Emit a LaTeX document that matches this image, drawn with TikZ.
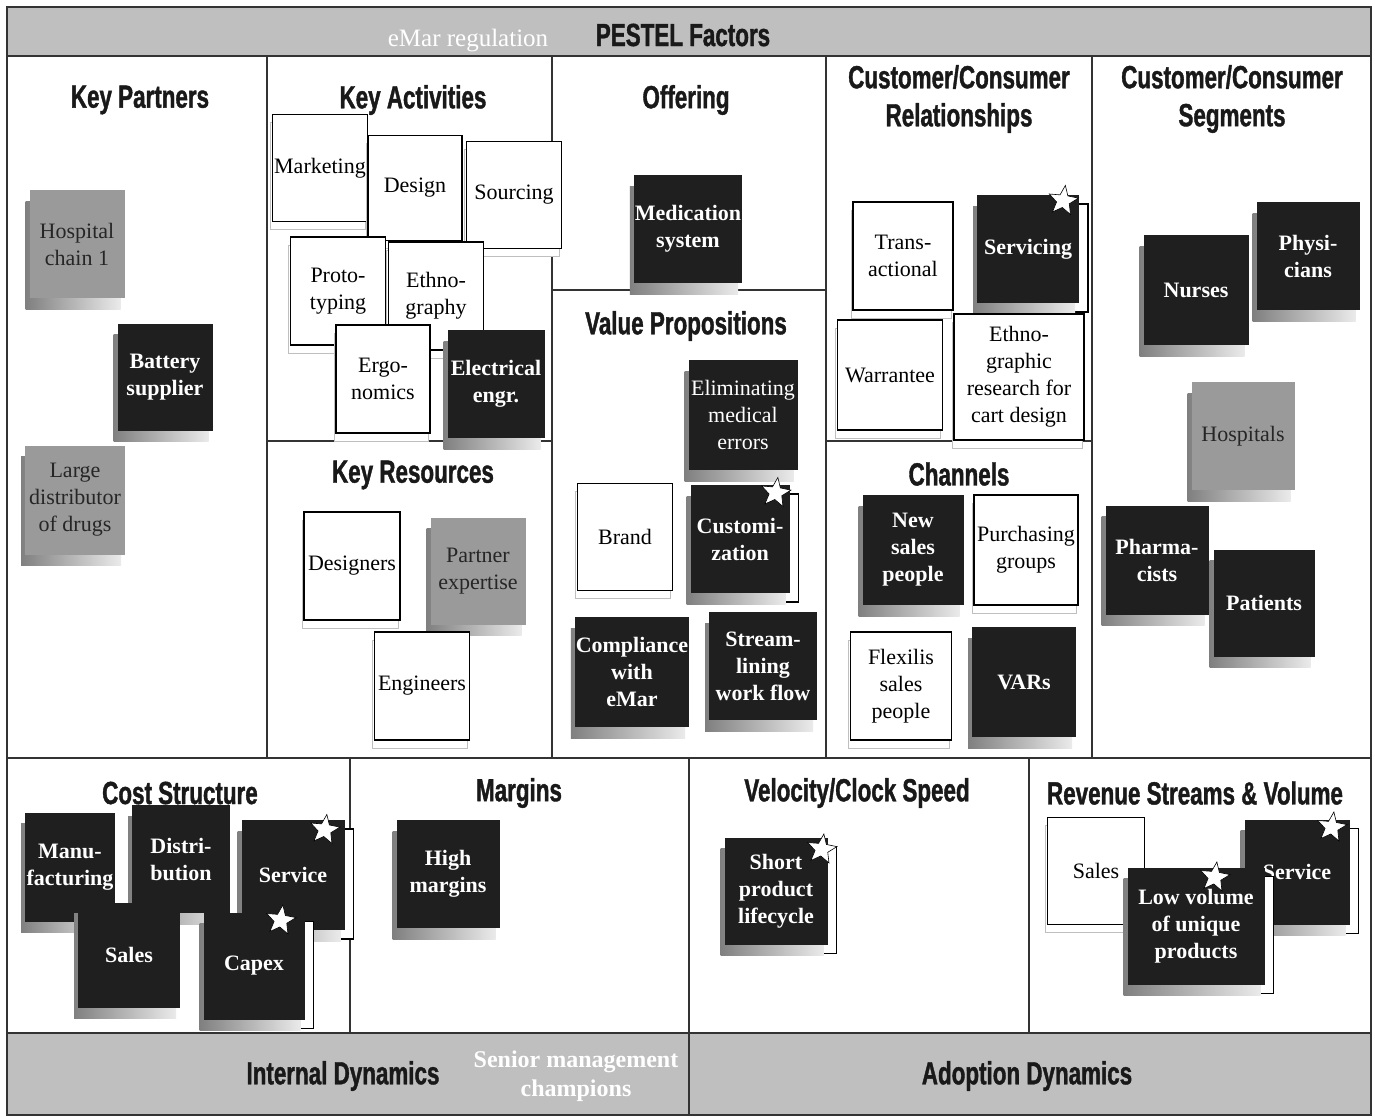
\documentclass[tikz,border=0pt]{standalone}
\usepackage{fontspec}
\setmainfont{Liberation Serif}
\newfontfamily\headfont[FakeStretch=0.7,FakeBold=1.2]{Liberation Sans}
\usepackage{tikz}
\usetikzlibrary{shadows,shapes.geometric}
\definecolor{ink}{HTML}{1F1F1F}
\definecolor{slate}{HTML}{9A9A9A}
\definecolor{band}{HTML}{BFBFBF}
\tikzset{
	wh/.style 2 args={minimum width=#1pt,minimum height=#2pt},
	note/.style={wh={96}{108},inner sep=1pt,align=center,font=\fontsize{22}{27}\selectfont},
	lift/.style={general shadow={shadow xshift=-4pt,shadow yshift=-11pt,left color=black!50,right color=black!8}},
	sheet/.style={copy shadow={shadow xshift=-2pt,shadow yshift=-8pt,fill=white,draw=black!25,line width=0.6pt}},
	curled/.style={copy shadow={shadow xshift=9pt,shadow yshift=-9pt,fill=white,draw=black,line width=1.3pt}},
	blacknote/.style={note,lift,fill=ink,text=white,font=\fontsize{22}{27}\selectfont\bfseries},
	darknote/.style={note,lift,fill=ink,text=white},
	graynote/.style={note,lift,fill=slate,text=black!85},
	whitenote/.style={note,sheet,fill=white,draw=black,line width=1.6pt},
	starmark/.style={star,star points=5,star point ratio=2.3,minimum size=31pt,inner sep=0pt,fill=white,draw=black,line width=0.6pt,rotate=-8},
	head/.style={font=\headfont\bfseries\fontsize{32}{38}\selectfont,align=center,text=black!90},
	frame/.style={line width=2.5pt,draw=black!80},
	rule/.style={line width=1.3pt,draw=black!80}
}
\begin{document}
\begin{tikzpicture}[x=1pt,y=-1pt]
	\useasboundingbox (0,0) rectangle (1375,1117);
	\fill[white] (0,0) rectangle (1375,1117);
	\fill[band] (7,7) rectangle (1371,56);
	\fill[band] (7,1033) rectangle (1371,1115);
	\draw[rule] (267,56) -- (267,758) (552,56) -- (552,758) (826,56) -- (826,758) (1092,56) -- (1092,758);
	\draw[rule] (267,441) -- (552,441) (552,290) -- (826,290) (826,441) -- (1092,441);
	\draw[rule] (350,758) -- (350,1033) (689,758) -- (689,1115) (1029,758) -- (1029,1033);
	\draw[frame] (7,56) -- (1371,56) (7,758) -- (1371,758) (7,1033) -- (1371,1033);
	\draw[frame] (7,7) rectangle (1371,1115);

	\node[head] (pestel) at (683,35) {PESTEL Factors};
	\node[font=\fontsize{25}{29}\selectfont,text=white] (emar) at (468,41) {eMar regulation};
	\node[head] (kp) at (140,100) {Key Partners};
	\node[head] (ka) at (413,100) {Key Activities};
	\node[head] (of) at (686,100) {Offering};
	\node[head] (cr) at (959,99) {Customer/Consumer\\Relationships};
	\node[head] (cs) at (1232,99) {Customer/Consumer\\Segments};
	\node[head] (kr) at (413,475) {Key Resources};
	\node[head] (vp) at (686,326) {Value Propositions};
	\node[head] (ch) at (959,474) {Channels};
	\node[head] (cost) at (180,793) {Cost Structure};
	\node[head] (mg) at (519,793) {Margins};
	\node[head] (vel) at (857,793) {Velocity/Clock Speed};
	\node[head] (rev) at (1195,793) {Revenue Streams \& Volume};
	\node[head] (intd) at (343,1076) {Internal Dynamics};
	\node[font=\fontsize{24}{29}\selectfont\bfseries,text=white,align=center] (smc) at (576,1076) {Senior management\\champions};
	\node[head] (adpt) at (1027,1076) {Adoption Dynamics};

	\node[graynote,wh={95}{108}] (hosp) at (77,244) {Hospital\\chain 1};
	\node[blacknote,wh={95}{107}] (batt) at (165,377) {Battery\\supplier};
	\node[graynote,wh={100}{109}] (dist) at (75,500) {Large\\distributor\\of drugs};

	\node[whitenote,wh={95}{107}] (mkt) at (320,168) {Marketing};
	\node[whitenote,wh={94}{105}] (dsgn) at (415,188) {Design};
	\node[whitenote,wh={95}{107}] (src) at (514,195) {Sourcing};
	\node[whitenote,wh={95}{108}] (proto) at (338,291) {Proto-\\typing};
	\node[whitenote,wh={95}{108}] (ethno) at (436,296) {Ethno-\\graphy};
	\node[whitenote,wh={94}{108}] (ergo) at (383,379) {Ergo-\\nomics};
	\node[blacknote,wh={97}{108}] (elec) at (496,384) {Electrical\\engr.};

	\node[whitenote,wh={96}{108}] (desr) at (352,566) {Designers};
	\node[graynote,wh={95}{107}] (pexp) at (478,571) {Partner\\expertise};
	\node[whitenote,wh={95}{108}] (engr) at (422,686) {Engineers};

	\node[blacknote,wh={107}{108}] (med) at (688,229) {Medication\\system};

	\node[darknote,wh={109}{110}] (elim) at (743,415) {Eliminating\\medical\\errors};
	\node[whitenote,wh={95}{107}] (brand) at (625,537) {Brand};
	\node[curled,blacknote,wh={99}{108}] (cust) at (740,539) {Customi-\\zation};
	\node[starmark] (custstar) at ([shift={(-14,8)}]cust.north east) {};
	\node[blacknote,wh={114}{110}] (comp) at (632,672) {Compliance\\with\\eMar};
	\node[blacknote,wh={108}{108}] (strm) at (763,666) {Stream-\\lining\\work flow};

	\node[whitenote,wh={100}{108}] (trans) at (903,256) {Trans-\\actional};
	\node[curled,blacknote,wh={102}{108}] (serv) at (1028,249) {Servicing};
	\node[starmark] (servstar) at ([shift={(-16,6)}]serv.north east) {};
	\node[whitenote,wh={105}{110}] (warr) at (890,375) {Warrantee};
	\node[whitenote,wh={130}{126}] (egr) at (1019,377) {Ethno-\\graphic\\research for\\cart design};

	\node[blacknote,wh={101}{110}] (nsp) at (913,550) {New\\sales\\people};
	\node[whitenote,wh={104}{110}] (pgrp) at (1026,550) {Purchasing\\groups};
	\node[whitenote,wh={101}{108}] (flex) at (901,686) {Flexilis\\sales\\people};
	\node[blacknote,wh={104}{110}] (vars) at (1024,682) {VARs};

	\node[blacknote,wh={105}{110}] (nurs) at (1196,290) {Nurses};
	\node[blacknote,wh={103}{108}] (phys) at (1308,256) {Physi-\\cians};
	\node[graynote,wh={103}{108}] (hosps) at (1243,436) {Hospitals};
	\node[blacknote,wh={103}{109}] (phar) at (1157,560) {Pharma-\\cists};
	\node[blacknote,wh={101}{107}] (pat) at (1264,603) {Patients};

	\node[blacknote,wh={90}{109}] (manu) at (70,867) {Manu-\\facturing};
	\node[blacknote,wh={98}{108}] (distr) at (181,859) {Distri-\\bution};
	\node[curled,blacknote,wh={103}{110}] (csvc) at (293,875) {Service};
	\node[starmark] (csvcstar) at ([shift={(-20,10)}]csvc.north east) {};
	\node[blacknote,wh={102}{105}] (csal) at (129,955) {Sales};
	\node[curled,blacknote,wh={101}{107}] (capex) at (254,966) {Capex};
	\node[starmark] (capexstar) at ([shift={(-24,8)}]capex.north east) {};

	\node[blacknote,wh={103}{108}] (high) at (448,874) {High\\margins};

	\node[curled,blacknote,wh={103}{107}] (short) at (776,891) {Short\\product\\lifecycle};
	\node[starmark] (shortstar) at ([shift={(-6,12)}]short.north east) {};

	\node[whitenote,wh={97}{107}] (rsal) at (1096,871) {Sales};
	\node[curled,blacknote,wh={105}{105}] (rsvc) at (1297,872) {Service};
	\node[starmark] (rsvcstar) at ([shift={(-18,8)}]rsvc.north east) {};
	\node[curled,blacknote,wh={137}{117}] (low) at (1196,926) {Low volume\\of unique\\products};
	\node[starmark] (lowstar) at ([shift={(-50,10)}]low.north east) {};
\end{tikzpicture}
\end{document}
